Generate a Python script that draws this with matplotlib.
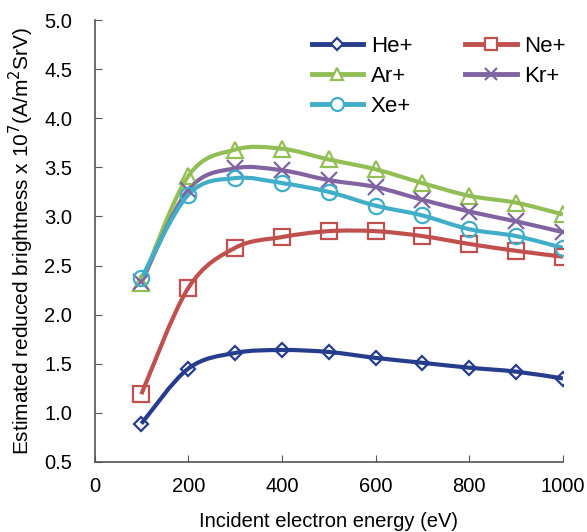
import numpy as np
import matplotlib
matplotlib.use("Agg")
from matplotlib import pyplot as plt
from matplotlib.path import Path
from matplotlib.patches import PathPatch
from matplotlib.lines import Line2D

energy = [100, 200, 300, 400, 500, 600, 700, 800, 900, 1000]
he = [0.89, 1.45, 1.61, 1.64, 1.62, 1.56, 1.51, 1.46, 1.42, 1.35]
ne = [1.19, 2.27, 2.68, 2.79, 2.85, 2.85, 2.80, 2.72, 2.65, 2.59]
ar = [2.32, 3.41, 3.68, 3.69, 3.58, 3.48, 3.34, 3.21, 3.14, 3.02]
kr = [2.33, 3.27, 3.49, 3.47, 3.37, 3.30, 3.17, 3.05, 2.95, 2.84]
xe = [2.37, 3.22, 3.39, 3.34, 3.25, 3.11, 3.01, 2.87, 2.80, 2.68]

series = [
    ("He+", he, "#263C8C", "D", 7),
    ("Ne+", ne, "#C0504D", "s", 11),
    ("Ar+", ar, "#92BE56", "^", 11),
    ("Kr+", kr, "#8064A2", "x", 11),
    ("Xe+", xe, "#41AEC8", "o", 11),
]

plt.rcParams['font.family'] = ['Liberation Sans', 'DejaVu Sans']


def smooth_path(x, y):
    # excel-style smoothed line: cubic bezier segments through the points
    p = np.column_stack([x, y]).astype(float)
    n = len(p)
    verts = [p[0]]
    codes = [Path.MOVETO]
    for i in range(n - 1):
        p0 = p[i - 1] if i > 0 else p[i]
        p3 = p[i + 2] if i + 2 < n else p[i + 1]
        c1 = p[i] + (p[i + 1] - p0) / 6
        c2 = p[i + 1] - (p3 - p[i]) / 6
        verts += [c1, c2, p[i + 1]]
        codes += [Path.CURVE4] * 3
    return Path(verts, codes)


fig = plt.figure(figsize=(5.87, 5.32), dpi=100)
ax = fig.add_axes([0.161, 0.1316, 0.798, 0.8308])

handles = {}
for name, vals, col, mk, ms in series:
    ax.add_patch(PathPatch(smooth_path(energy, vals), facecolor='none',
                           edgecolor=col, lw=3, zorder=2))
    mew = 1.6
    ax.plot(energy, vals, linestyle='none', marker=mk, ms=ms, mfc='none',
            mec=col, mew=mew, zorder=3)
    handles[name] = Line2D([], [], color=col, lw=3.5, marker=mk, ms=ms * 0.85,
                           mfc='white', mec=col, mew=mew, label=name)

ax.set_xlim(0, 1000)
ax.set_ylim(0.5, 5.0)
ax.set_xticks(range(0, 1001, 200))
ax.set_yticks(np.arange(0.5, 5.01, 0.5))
ax.yaxis.set_major_formatter(matplotlib.ticker.FormatStrFormatter('%.1f'))
ax.tick_params(direction='in', labelsize=14.5, color='#555555', length=5)
ax.tick_params(axis='x', pad=11)
ax.tick_params(axis='y', pad=16)
for s in ['top', 'right']:
    ax.spines[s].set_visible(False)
for s in ['left', 'bottom']:
    ax.spines[s].set_color('#555555')
    ax.spines[s].set_linewidth(1.2)

ax.set_xlabel("Incident electron energy (eV)", fontsize=14.5, labelpad=11)
ax.set_ylabel("Estimated reduced brightness x 10$^7$(A/m$^2$SrV)", fontsize=15, labelpad=6)

order = ["He+", "Ar+", "Xe+", "Ne+", "Kr+"]
ax.legend(handles=[handles[k] for k in order], loc='upper right',
          bbox_to_anchor=(1.049, 1.01), ncol=2,
          frameon=False, fontsize=16, handlelength=2.3, columnspacing=2.4,
          labelspacing=0.42, handletextpad=0.35)

fig.savefig("out.png", dpi=100)
